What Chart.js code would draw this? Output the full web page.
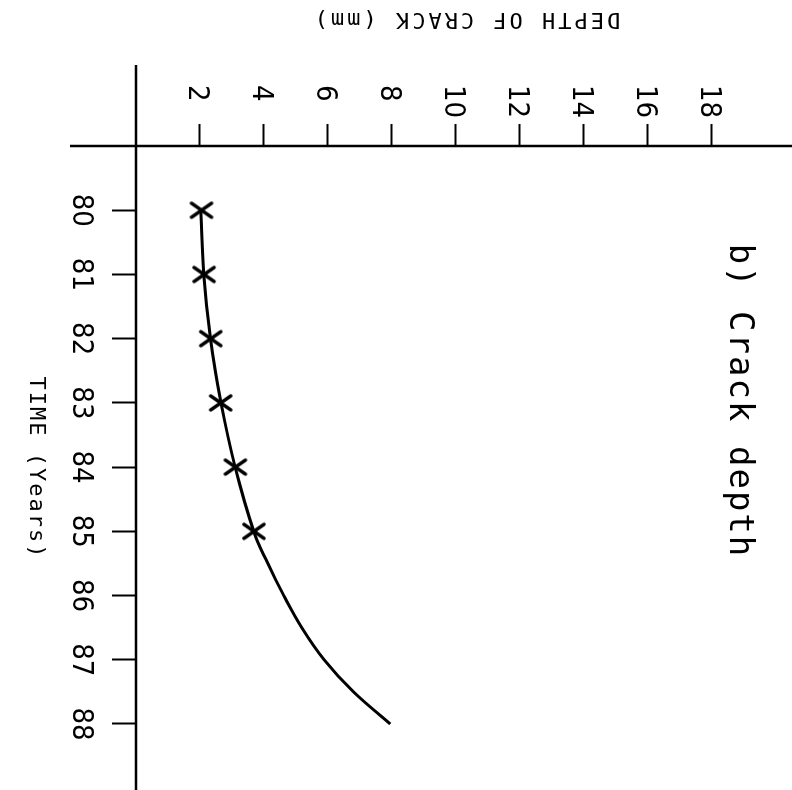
<!DOCTYPE html>
<html>
<head>
<meta charset="utf-8">
<script src="https://cdn.jsdelivr.net/npm/chart.js@4.4.0/dist/chart.umd.min.js"></script>
<style>
  html, body { margin: 0; padding: 0; background: #fff; overflow: hidden; }
  /* the plot is drawn upright, then turned a quarter turn clockwise like the scan */
  #wrap {
    position: absolute; left: 0; top: 0;
    width: 790px; height: 792px;
    transform-origin: 0 0;
    transform: translateX(792px) rotate(90deg);
  }
</style>
</head>
<body>
<div id="wrap"><canvas id="crack-chart" width="790" height="792"></canvas></div>
<script>
const measuredYears = [80, 81, 82, 83, 84, 85];
const measuredDepth = [2.05, 2.13, 2.34, 2.65, 3.11, 3.69];
// fitted curve (half years near the end where it bends)
const fitYears = [80, 81, 82, 83, 84, 85, 85.5, 86, 86.5, 87, 87.5, 88];
const fitDepth = [2.03, 2.12, 2.33, 2.66, 3.10, 3.68, 4.12, 4.62, 5.18, 5.88, 6.80, 7.95];
const timeTicks = [80, 81, 82, 83, 84, 85, 86, 87, 88];
const depthTicks = [2, 4, 6, 8, 10, 12, 14, 16, 18];

const chartTitle = "b) Crack depth";
const timeTitle = "TIME (Years)";
const depthTitle = "DEPTH OF CRACK (mm)";

const tickFont = { family: "'Liberation Sans Narrow', 'DejaVu Sans Condensed', 'DejaVu Sans Mono'", size: 29 };
const monoFont = '"DejaVu Sans Mono", "Liberation Mono", monospace';

function crossMarker() {
    const c = document.createElement("canvas");
    c.width = 20;
    c.height = 26;
    const g = c.getContext("2d");
    g.strokeStyle = "#000";
    g.lineWidth = 3.5;
    g.lineCap = "round";
    g.beginPath();
    g.moveTo(3, 3);
    g.lineTo(17, 23);
    g.moveTo(17, 3);
    g.lineTo(3, 23);
    g.stroke();
    return c;
}

// axis lines cross each other and run past the plot area, plus the texts
const framePlugin = {
    id: "frame",
    afterDraw(chart) {
        const { ctx, scales: { x, y } } = chart;
        const x0 = x.getPixelForValue(79);
        const y0 = y.getPixelForValue(0);
        ctx.save();
        ctx.strokeStyle = "#000";
        ctx.lineWidth = 2.5;
        ctx.beginPath();
        ctx.moveTo(x0, 0);
        ctx.lineTo(x0, 722);
        ctx.moveTo(65, y0);
        ctx.lineTo(790, y0);
        ctx.stroke();

        ctx.fillStyle = "#000";
        ctx.textAlign = "center";
        ctx.textBaseline = "alphabetic";

        ctx.font = "34px " + monoFont;
        ctx.letterSpacing = "2px";
        ctx.fillText(chartTitle, 401, 62);

        ctx.font = "22px " + monoFont;
        ctx.letterSpacing = "2px";
        ctx.fillText(timeTitle, 468, 762);

        ctx.translate(13, 326);
        ctx.rotate(Math.PI / 2);
        ctx.letterSpacing = "3px";
        ctx.fillText(depthTitle, 0, 0);
        ctx.restore();
    },
};

const ctx = document.getElementById("crack-chart").getContext("2d");
new Chart(ctx, {
    type: "scatter",
    data: {
        datasets: [
            {
                label: "fit",
                data: fitYears.map((t, i) => ({ x: t, y: fitDepth[i] })),
                showLine: true,
                borderColor: "#000",
                borderWidth: 3,
                pointRadius: 0,
                tension: 0.4,
                fill: false,
            },
            {
                label: "measured",
                data: measuredYears.map((t, i) => ({ x: t, y: measuredDepth[i] })),
                showLine: false,
                pointStyle: crossMarker(),
            },
        ],
    },
    options: {
        responsive: false,
        animation: false,
        layout: { padding: { left: 85, top: 0, right: 0, bottom: 0 } },
        plugins: {
            legend: { display: false },
            tooltip: { enabled: false },
            title: { display: false },
        },
        scales: {
            x: {
                type: "linear",
                position: "bottom",
                min: 79,
                max: 88.95,
                afterBuildTicks: (s) => { s.ticks = timeTicks.map((v) => ({ value: v })); },
                afterFit: (s) => { s.height = 136; s.paddingLeft = 0; s.paddingRight = 0; },
                border: { display: false },
                grid: { drawOnChartArea: false, drawTicks: true, tickLength: 24, tickWidth: 2, tickColor: "#000" },
                ticks: { color: "#000", padding: 14, font: tickFont, maxRotation: 0, autoSkip: false },
            },
            y: {
                type: "linear",
                position: "left",
                min: 0,
                max: 20.35,
                afterBuildTicks: (s) => { s.ticks = depthTicks.map((v) => ({ value: v })); },
                afterFit: (s) => { s.width = 61; s.paddingTop = 0; s.paddingBottom = 0; },
                border: { display: false },
                grid: { drawOnChartArea: false, drawTicks: true, tickLength: 22, tickWidth: 2, tickColor: "#000" },
                ticks: { color: "#000", crossAlign: "far", labelOffset: 3, font: tickFont, autoSkip: false },
            },
        },
    },
    plugins: [framePlugin],
});
</script>
</body>
</html>
